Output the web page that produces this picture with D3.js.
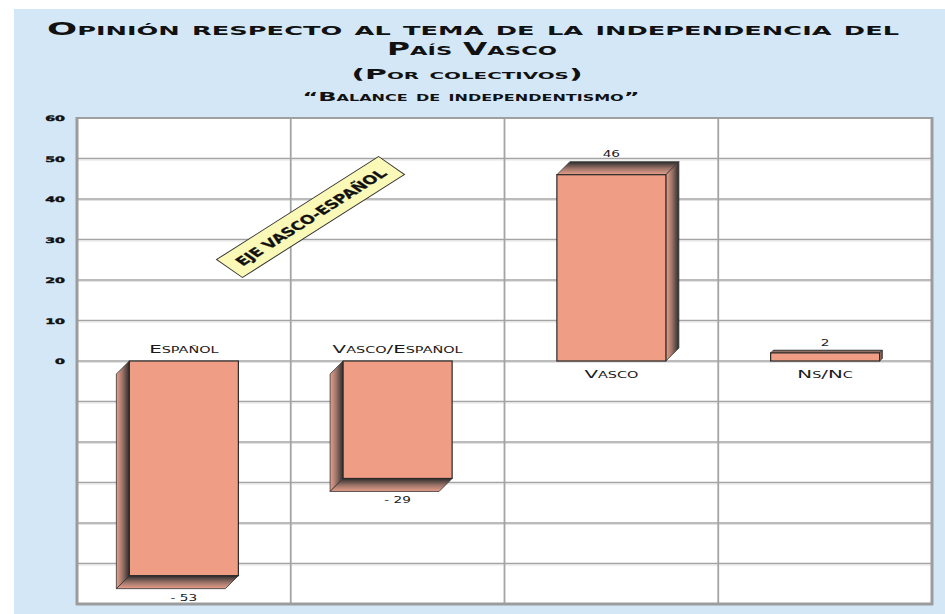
<!DOCTYPE html>
<html>
<head>
<meta charset="utf-8">
<script src="https://cdn.jsdelivr.net/npm/d3@7"></script>
<style>
  html, body { margin: 0; padding: 0; background: #ffffff; }
  svg { display: block; }
</style>
</head>
<body>
<svg id="chart" width="945" height="614"></svg>
<script>
// Independence balance by group
const categories = ["Español", "Vasco/Español", "Vasco", "Ns/Nc"];
const values = [-53, -29, 46, 2];
const yTickValues = [0, 10, 20, 30, 40, 50, 60];
const gridValues = [-50, -40, -30, -20, -10, 0, 10, 20, 30, 40, 50];
const titleLines = ["Opinión respecto al tema de la independencia del", "País Vasco"];
const subtitle = "(Por colectivos)";
const subsubtitle = "“Balance de independentismo”";
const annotation = "EJE VASCO-ESPAÑOL";

const W = 945, H = 614;
const plot = { left: 77, right: 932, top: 118, bottom: 604 };
const svg = d3.select("#chart");
const FONT = "'DejaVu Sans', Verdana, sans-serif";

// stretch a text element horizontally by factor k (wide engraved look)
function stretch(sel, k) {
  sel.each(function () {
    const len = this.getComputedTextLength();
    d3.select(this).attr("textLength", len * k).attr("lengthAdjust", "spacingAndGlyphs");
  });
  return sel;
}
function fit(sel, w) {
  return sel.attr("textLength", w).attr("lengthAdjust", "spacingAndGlyphs");
}

// panel background
svg.append("rect").attr("x", 14).attr("y", 9).attr("width", W - 14).attr("height", H - 9)
  .attr("fill", "#d3e7f6");

// gradients for the bar depth faces
const defs = svg.append("defs");
const side = defs.append("linearGradient").attr("id", "sideGrad")
  .attr("x1", 0).attr("y1", 0).attr("x2", 1).attr("y2", 0);
side.append("stop").attr("offset", "0%").attr("stop-color", "#eaa08a");
side.append("stop").attr("offset", "45%").attr("stop-color", "#a0766a");
side.append("stop").attr("offset", "100%").attr("stop-color", "#2c2c2c");
const cap = defs.append("linearGradient").attr("id", "capGrad")
  .attr("x1", 0).attr("y1", 0).attr("x2", 0).attr("y2", 1);
cap.append("stop").attr("offset", "0%").attr("stop-color", "#2c2c2c");
cap.append("stop").attr("offset", "55%").attr("stop-color", "#a0766a");
cap.append("stop").attr("offset", "100%").attr("stop-color", "#eaa08a");

const x = d3.scaleBand().domain(categories).range([plot.left, plot.right]);
const y = d3.scaleLinear().domain([-60, 60]).range([plot.bottom, plot.top]);

// plot area
svg.append("rect").attr("x", plot.left).attr("y", plot.top)
  .attr("width", plot.right - plot.left).attr("height", plot.bottom - plot.top)
  .attr("fill", "#ffffff");

// horizontal gridlines
const grid = svg.append("g");
grid.selectAll("line.g1").data(gridValues).join("line").attr("class", "g1")
  .attr("x1", plot.left).attr("x2", plot.right)
  .attr("y1", d => y(d)).attr("y2", d => y(d))
  .attr("stroke", "#a4a4a4").attr("stroke-width", 1.6);
grid.selectAll("line.g2").data(gridValues).join("line").attr("class", "g2")
  .attr("x1", plot.left).attr("x2", plot.right)
  .attr("y1", d => y(d) + 1.5).attr("y2", d => y(d) + 1.5)
  .attr("stroke", "#e2e2e2").attr("stroke-width", 1);
// vertical gridlines between groups
grid.selectAll("line.v").data(categories.slice(1)).join("line").attr("class", "v")
  .attr("x1", d => x(d)).attr("x2", d => x(d))
  .attr("y1", plot.top).attr("y2", plot.bottom)
  .attr("stroke", "#a4a4a4").attr("stroke-width", 1.8);

// frame
svg.append("line").attr("x1", plot.left).attr("x2", plot.right).attr("y1", plot.top).attr("y2", plot.top)
  .attr("stroke", "#a0a0a0").attr("stroke-width", 2);
svg.append("line").attr("x1", plot.left - 1).attr("x2", plot.right + 1).attr("y1", plot.bottom).attr("y2", plot.bottom)
  .attr("stroke", "#9c9c9c").attr("stroke-width", 3);
svg.append("line").attr("x1", plot.left).attr("x2", plot.left).attr("y1", plot.top - 1).attr("y2", plot.bottom + 1)
  .attr("stroke", "#9c9c9c").attr("stroke-width", 3);
svg.append("line").attr("x1", plot.right).attr("x2", plot.right).attr("y1", plot.top - 1).attr("y2", plot.bottom + 1)
  .attr("stroke", "#9c9c9c").attr("stroke-width", 3);

// bars with a simple extruded look
const bw = x.bandwidth() * 0.51;
const y0 = y(0);
const bars = svg.append("g");
categories.forEach((c, i) => {
  const v = values[i];
  const bx = x(c) + (x.bandwidth() - bw) / 2;
  const yv = y(v);
  const d = Math.min(13, Math.abs(yv - y0) / 3);
  const g = bars.append("g");
  if (v >= 0) {
    g.append("polygon")
      .attr("points", [[bx, yv], [bx + d, yv - d], [bx + bw + d, yv - d], [bx + bw, yv]].join(" "))
      .attr("fill", "url(#capGrad)").attr("stroke", "#333").attr("stroke-width", 0.8);
    g.append("polygon")
      .attr("points", [[bx + bw, yv], [bx + bw + d, yv - d], [bx + bw + d, y0 - d], [bx + bw, y0]].join(" "))
      .attr("fill", "url(#sideGrad)").attr("stroke", "#333").attr("stroke-width", 0.8);
  } else {
    g.append("polygon")
      .attr("points", [[bx, y0], [bx - d, y0 + d], [bx - d, yv + d], [bx, yv]].join(" "))
      .attr("fill", "url(#sideGrad)").attr("stroke", "#333").attr("stroke-width", 0.8);
    g.append("polygon")
      .attr("points", [[bx, yv], [bx - d, yv + d], [bx + bw - d, yv + d], [bx + bw, yv]].join(" "))
      .attr("fill", "url(#capGrad)").attr("stroke", "#333").attr("stroke-width", 0.8);
  }
  g.append("rect").attr("x", bx).attr("y", Math.min(yv, y0))
    .attr("width", bw).attr("height", Math.abs(yv - y0))
    .attr("fill", "#ef9d84").attr("stroke", "#2a2a2a").attr("stroke-width", 1.2);

  // category label: above the zero line for negative bars, below for positive
  const cx = x(c) + x.bandwidth() / 2;
  stretch(svg.append("text").attr("x", cx).attr("y", v < 0 ? y0 - 8 : y0 + 16.5)
    .attr("text-anchor", "middle").attr("font-family", FONT).attr("font-size", 11)
    .style("font-variant", "small-caps").attr("fill", "#1a1a1a").text(c), 1.8);

  // value label
  const lbl = v < 0 ? "- " + Math.abs(v) : String(v);
  stretch(svg.append("text").attr("x", cx).attr("y", v < 0 ? yv + 25 : yv - d - 4.5)
    .attr("text-anchor", "middle").attr("font-family", FONT).attr("font-size", 8)
    .attr("fill", "#1a1a1a").text(lbl), 1.7);
});

// y tick labels
svg.append("g").selectAll("text").data(yTickValues).join("text")
  .attr("x", 65).attr("y", d => y(d) + 3)
  .attr("text-anchor", "end").attr("font-family", FONT).attr("font-size", 7.5)
  .attr("font-weight", "bold").attr("fill", "#111")
  .attr("stroke", "#111").attr("stroke-width", 0.4).text(d => d)
  .call(s => stretch(s, 1.9));

// titles
const tAttrs = s => s.attr("text-anchor", "middle").attr("font-family", FONT)
  .attr("font-weight", "bold").style("font-variant", "small-caps").attr("fill", "#111");
fit(svg.append("text").attr("x", 473).attr("y", 35).attr("font-size", 18).call(tAttrs).text(titleLines[0]), 852);
fit(svg.append("text").attr("x", 472).attr("y", 55).attr("font-size", 18).call(tAttrs).text(titleLines[1]), 170);
fit(svg.append("text").attr("x", 467).attr("y", 79).attr("font-size", 13.5).call(tAttrs).text(subtitle), 231);
fit(svg.append("text").attr("x", 471).attr("y", 101).attr("font-size", 12).call(tAttrs).text(subsubtitle), 337);

// diagonal tag
const tag = svg.append("g").attr("transform", "translate(310.5,217) rotate(-32.45) skewX(22.85)");
tag.append("rect").attr("x", -96).attr("y", -14.5).attr("width", 192).attr("height", 29)
  .attr("fill", "#fbf9b8").attr("stroke", "#333").attr("stroke-width", 1);
fit(tag.append("text").attr("x", 0).attr("y", 5.5).attr("text-anchor", "middle")
  .attr("font-family", FONT).attr("font-weight", "bold").attr("font-size", 14)
  .attr("fill", "#111").attr("stroke", "#111").attr("stroke-width", 0.3).text(annotation), 172);
</script>
</body>
</html>
